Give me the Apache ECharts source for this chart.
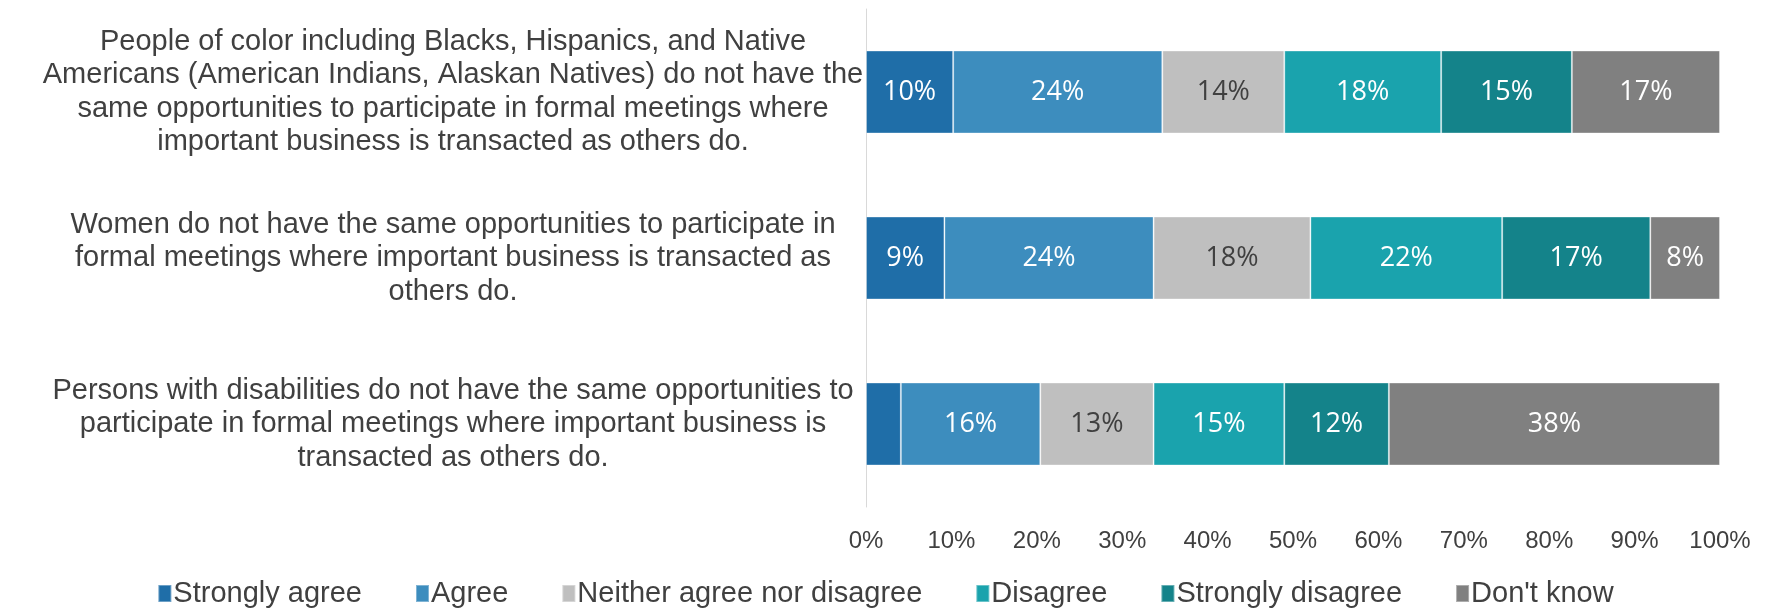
<!DOCTYPE html>
<html><head><meta charset="utf-8">
<script src="https://cdn.jsdelivr.net/npm/echarts@6/dist/echarts.min.js"></script>
<style>html,body{margin:0;padding:0;background:#fff}#c{width:1771px;height:610px}</style>
</head><body><div id="c"></div>
<script>
const categories = [
  "People of color including Blacks, Hispanics, and Native\nAmericans (American Indians, Alaskan Natives) do not have the\nsame opportunities to participate in formal meetings where\nimportant business is transacted as others do.",
  "Women do not have the same opportunities to participate in\nformal meetings where important business is transacted as\nothers do.",
  "Persons with disabilities do not have the same opportunities to\nparticipate in formal meetings where important business is\ntransacted as others do."
];
const seriesNames = ["Strongly agree", "Agree", "Neither agree nor disagree", "Disagree", "Strongly disagree", "Don't know"];
const stronglyAgree = [10, 9, 4];
const agree = [24, 24, 16];
const neither = [14, 18, 13];
const disagree = [18, 22, 15];
const stronglyDisagree = [15, 17, 12];
const dontKnow = [17, 8, 38];
const xTicks = ["0%", "10%", "20%", "30%", "40%", "50%", "60%", "70%", "80%", "90%", "100%"];

const colors = ["#1F6EA8", "#3D8DBE", "#BFBFBF", "#1AA3AD", "#14838A", "#808080"];
const labelColors = ["#fff", "#fff", "#404040", "#fff", "#fff", "#fff"];
const raw = [stronglyAgree, agree, neither, disagree, stronglyDisagree, dontKnow];
const totals = categories.map((_, i) => raw.reduce((s, a) => s + a[i], 0));

const series = raw.map((arr, k) => ({
  name: seriesNames[k],
  type: 'bar',
  stack: 'total',
  barWidth: '50%',
  itemStyle: { color: colors[k], borderColor: 'rgba(255,255,255,0.35)', borderWidth: 1 },
  label: {
    show: true,
    position: 'inside',
    color: labelColors[k],
    fontFamily: 'Open Sans',
    fontSize: 27,
    formatter: p => (p.data.raw >= 5 ? p.data.raw + '%' : '')
  },
  emphasis: { disabled: true },
  data: arr.map((v, i) => ({ value: v / totals[i] * 100, raw: v }))
}));

const chart = echarts.init(document.getElementById('c'), null, { renderer: 'canvas' });
chart.setOption({
  animation: false,
  color: colors,
  grid: { left: 866, right: 51, top: 9, bottom: 103, containLabel: false },
  legend: {
    top: 574,
    left: 'center',
    icon: 'rect',
    itemWidth: 13,
    itemHeight: 17,
    itemGap: 53,
    textStyle: { fontFamily: 'Liberation Sans', fontSize: 29, color: '#404040', padding: [0, 0, 0, -3] },
    data: seriesNames
  },
  xAxis: {
    type: 'value',
    min: 0, max: 100, interval: 10,
    axisLine: { show: false },
    axisTick: { show: false },
    splitLine: { show: false },
    axisLabel: {
      margin: 22,
      fontFamily: 'Liberation Sans',
      fontSize: 24,
      color: '#404040',
      formatter: v => xTicks[Math.round(v / 10)]
    }
  },
  yAxis: {
    type: 'category',
    inverse: true,
    data: categories,
    axisLine: { show: true, lineStyle: { color: '#D9D9D9', width: 1 } },
    axisTick: { show: false },
    axisLabel: {
      align: 'center',
      margin: 413,
      fontFamily: 'Liberation Sans',
      fontSize: 29,
      lineHeight: 33.5,
      color: '#404040'
    }
  },
  series: series
});
</script>
</body></html>
